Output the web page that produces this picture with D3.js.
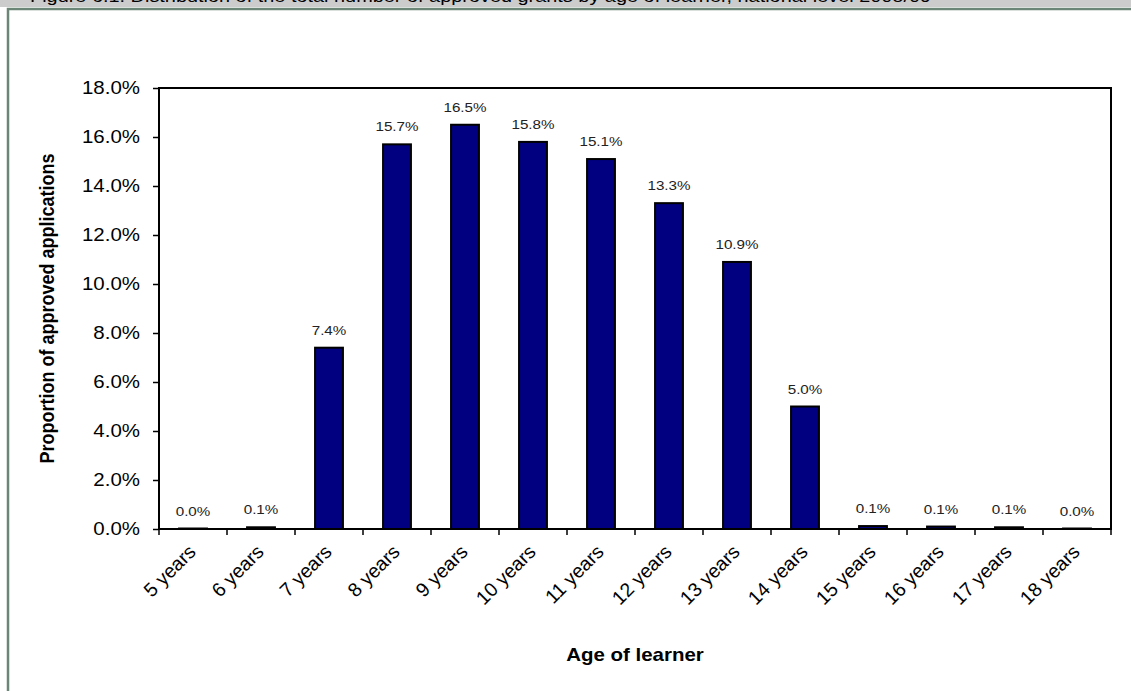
<!DOCTYPE html>
<html>
<head>
<meta charset="utf-8">
<script src="https://cdn.jsdelivr.net/npm/d3@7"></script>
<style>
  body { margin: 0; background: #fff; }
  svg { display: block; font-family: "Liberation Sans", Arial, sans-serif; }
</style>
</head>
<body>
<div id="chart"></div>
<script>
// data
var ages = ["5 years", "6 years", "7 years", "8 years", "9 years", "10 years", "11 years",
            "12 years", "13 years", "14 years", "15 years", "16 years", "17 years", "18 years"];
var shares = [0.02, 0.07, 7.4, 15.7, 16.5, 15.8, 15.1, 13.3, 10.9, 5.0, 0.12, 0.1, 0.07, 0.02];
var yTicks = [0, 2, 4, 6, 8, 10, 12, 14, 16, 18];

var SX = 1.17;  // the original picture is stretched sideways, so the text is too

function init() {
  var W = 1131, H = 691;
  var left = 159, right = 1111, top = 88, bottom = 529;

  var svg = d3.select("#chart").append("svg")
    .attr("width", W)
    .attr("height", H);

  // title strip, cut off at the top of the picture
  svg.append("rect")
    .attr("x", 0).attr("y", 0)
    .attr("width", W).attr("height", 7)
    .style("fill", "#cccccc");

  svg.append("text")
    .attr("transform", "translate(30,2) scale(" + SX + ",1)")
    .style("font-size", "17px")
    .text("Figure 6.1: Distribution of the total number of approved grants by age of learner, national level 2008/09");

  // frame
  svg.append("path")
    .attr("d", "M8," + H + "V9H" + W)
    .style("fill", "none")
    .style("stroke", "#6b8576")
    .style("stroke-width", 2.5);

  var xScale = d3.scaleBand()
    .domain(ages)
    .range([left, right])
    .paddingInner(0.59)
    .paddingOuter(0.295);

  var yScale = d3.scaleLinear()
    .domain([0, 18])
    .range([bottom, top]);

  // plot box
  svg.append("rect")
    .attr("x", left).attr("y", top)
    .attr("width", right - left).attr("height", bottom - top)
    .style("fill", "white")
    .style("stroke", "black")
    .style("stroke-width", 2);

  var yAxis = d3.axisLeft(yScale)
    .tickValues(yTicks)
    .tickSize(6)
    .tickPadding(13)
    .tickFormat(function(d) { return d.toFixed(1) + "%"; });

  var gy = svg.append("g")
    .attr("transform", "translate(" + left + ",0)")
    .call(yAxis);
  gy.select(".domain").remove();
  gy.selectAll("text")
    .attr("x", -19 / SX)
    .attr("transform", "scale(" + SX + ",1)")
    .style("font-size", "17.5px")
    .style("font-family", "Liberation Sans, Arial, sans-serif")
    .style("fill", "#000");
  gy.selectAll("line").style("stroke", "#000").style("stroke-width", 1.5);

  // category ticks sit on band edges
  var edges = ages.map(function(d) { return xScale(d) - xScale.step() * xScale.paddingInner() / 2; });
  edges.push(right);
  svg.append("g").selectAll("line")
    .data(edges)
    .enter()
    .append("line")
    .attr("x1", function(d) { return d; })
    .attr("x2", function(d) { return d; })
    .attr("y1", bottom)
    .attr("y2", bottom + 6)
    .style("stroke", "#000")
    .style("stroke-width", 1.5);

  svg.append("g").selectAll("text")
    .data(ages)
    .enter()
    .append("text")
    .attr("text-anchor", "end")
    .attr("transform", function(d) {
      var cx = xScale(d) + xScale.bandwidth() / 2;
      return "translate(" + (cx + 4) + "," + (bottom + 24) + ") rotate(-45)";
    })
    .style("font-size", "19.5px")
    .text(function(d) { return d; });

  // bars
  svg.append("g").selectAll("rect")
    .data(shares)
    .enter()
    .append("rect")
    .attr("x", function(d, i) { return xScale(ages[i]); })
    .attr("y", function(d) { return yScale(d); })
    .attr("width", xScale.bandwidth())
    .attr("height", function(d) { return bottom - yScale(d); })
    .style("fill", "#000080")
    .style("stroke", "#000")
    .style("stroke-width", 2);

  // value labels
  svg.append("g").selectAll("text")
    .data(shares)
    .enter()
    .append("text")
    .attr("text-anchor", "middle")
    .attr("transform", function(d, i) {
      var cx = xScale(ages[i]) + xScale.bandwidth() / 2;
      return "translate(" + cx + "," + (yScale(d) - 13) + ") scale(" + SX + ",1)";
    })
    .style("font-size", "13px")
    .style("fill", "#222")
    .text(function(d) { return d.toFixed(1) + "%"; });

  // axis titles
  svg.append("text")
    .attr("transform", "translate(" + ((left + right) / 2) + ",661) scale(" + SX + ",1)")
    .attr("text-anchor", "middle")
    .style("font-size", "17.5px")
    .style("font-weight", "bold")
    .text("Age of learner");

  svg.append("text")
    .attr("transform", "translate(54," + ((top + bottom) / 2) + ") scale(" + SX + ",1) rotate(-90)")
    .attr("text-anchor", "middle")
    .style("font-size", "18px")
    .style("font-weight", "bold")
    .text("Proportion of approved applications");
}

window.onload = init;
</script>
</body>
</html>
